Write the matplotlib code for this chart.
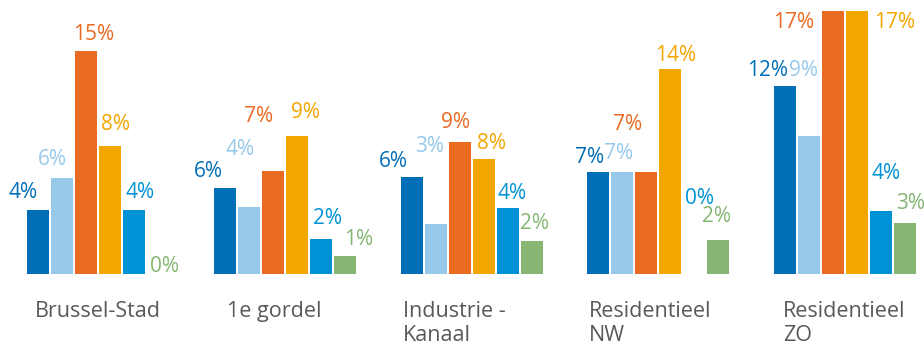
import numpy as np
import matplotlib
matplotlib.use("Agg")
import matplotlib.pyplot as plt

# ---- data -------------------------------------------------------------
regions = ["Brussel-Stad", "1e gordel", "Industrie -\nKanaal",
           "Residentieel\nNW", "Residentieel\nZO"]

serie1 = [4.24, 5.70, 6.45, 6.75, 12.45]
serie2 = [6.36, 4.45, 3.31, 6.75, 9.14]
serie3 = [14.77, 6.82, 8.74, 6.75, 17.4]
serie4 = [8.48, 9.14, 7.62, 13.55, 17.4]
serie5 = [4.24, 2.32, 4.37, 0.0, 4.17]
serie6 = [0.0, 1.19, 2.19, 2.25, 3.38]

series = [serie1, serie2, serie3, serie4, serie5, serie6]

# ---- style --------------------------------------------------------------
colors = ["#006DB7", "#97C9EB", "#E96A20", "#F3A600", "#0092D5", "#86B674"]
label_font = "Open Sans"
cat_color = "#595959"

# manual nudges (pixels) for the value labels, relative to each bar top
label_dx = [[-15, -10, 7, 5, 5.5, 6],
            [-17, -8.5, -14, 8.5, 6.5, 14],
            [-18, -6.5, -4, 8, 4, 3],
            [-9, -4, -19, 5, 5, -1.5],
            [-17.5, -5, -39.5, 38, 5.5, 6]]
label_dy = [[17, 18, 16, 21, 17, 8],
            [16, 57, 54, 23, 20, 17],
            [15, 77, 19, 15, 14, 17],
            [14, 18, 47, 14, 75, 23],
            [15, 65, -12, -12, 37, 19]]
cat_dx = [0, -11, -17, -8, -1]

W, H, DPI = 924, 346, 100
fig = plt.figure(figsize=(W / DPI, H / DPI), dpi=DPI)
base_px, top_px = 274, 11
ax = fig.add_axes([0, (H - base_px) / H, 1, (base_px - top_px) / H])

y_top = 17.4
group_step = 186.7 / 24.0
bar_w = 22.0 / 24.0
centre0_px = 98.2
ax.set_xlim(-centre0_px / 24.0, (W - centre0_px) / 24.0)
ax.set_ylim(0, y_top)

group_x = np.arange(len(regions)) * group_step
n = len(series)
for j, (vals, col) in enumerate(zip(series, colors)):
    xs = group_x + (j - (n - 1) / 2.0)
    ax.bar(xs, vals, width=bar_w, color=col, linewidth=0)
    for g, (x, v) in enumerate(zip(xs, vals)):
        ax.annotate(f"{v:.0f}%", xy=(x, min(v, y_top)),
                    xytext=(label_dx[g][j], label_dy[g][j]),
                    textcoords="offset pixels", ha="center", va="center",
                    color=col, fontsize=15, family=label_font,
                    annotation_clip=False)

for g, name in enumerate(regions):
    ax.annotate(name, xy=(group_x[g], 0), xycoords="data",
                xytext=(cat_dx[g], -27), textcoords="offset pixels",
                ha="center", va="top", multialignment="left",
                color=cat_color, fontsize=15.5, family=label_font,
                linespacing=1.2, annotation_clip=False)

ax.axis("off")
fig.savefig("out.png", dpi=DPI)
